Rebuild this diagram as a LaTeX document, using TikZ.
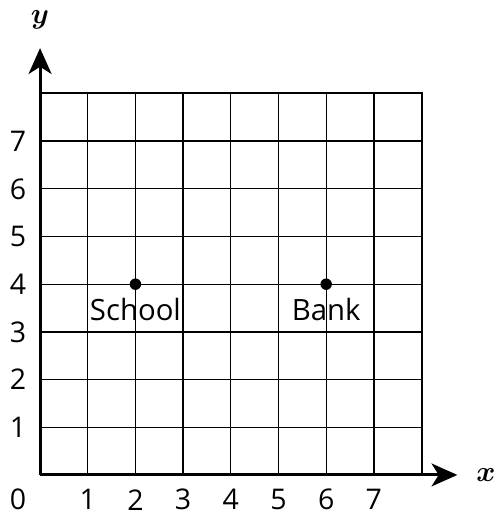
\documentclass[tikz,border=0pt]{standalone}
\usepackage{fontspec}
\setmainfont{Open Sans}
\usepackage{tikz}
\usetikzlibrary{arrows.meta,positioning}

\begin{document}
\begin{tikzpicture}[
  gl/.style={line width=0.8pt},
  frame/.style={line width=1.2pt},
  axis/.style={line width=1.8pt,-{Stealth[length=5.4mm,width=4.8mm,inset=1.5mm]}},
  tk/.style={font=\fontsize{17}{18}\selectfont,inner sep=0pt},
  dot/.style={circle,fill=black,inner sep=0pt,minimum size=2.4mm},
  pl/.style={font=\fontsize{17.5}{19}\selectfont,inner sep=1pt},
  al/.style={font=\fontsize{17}{18}\selectfont\boldmath,inner sep=0pt},
]
\useasboundingbox (-0.84,-0.84) rectangle (9.50,9.96);
% ============ grid ============
\foreach \i in {1,...,7} {
  \draw[gl] (\i,0) -- (\i,8);
  \draw[gl] (0,\i) -- (8,\i);
}
\draw[frame] (0,8) -- (8,8) -- (8,0);
% ============ axes ============
\coordinate (O) at (0,0);
\coordinate (xend) at (8.75,0);
\coordinate (yend) at (0,8.95);
\draw[axis] (O) -- (xend);
\draw[axis] (O) -- (yend);
\node[al] (xlab) at (9.35,0.0) {$x$};
\node[al] (ylab) at (0,9.55) {$y$};
% ============ tick labels ============
\node[tk] (t0) at (-0.46,-0.52) {0};
\foreach \i in {1,...,7} {
  \node[tk] (tx\i) at (\i,-0.52) {\i};
  \node[tk] (ty\i) at (-0.46,\i) {\i};
}
% ============ places ============
\node[dot] (school) at (2,4) {};
\node[dot] (bank) at (6,4) {};
\node[pl,below=1.2mm of school] (schoollab) {School};
\node[pl,below=1.2mm of bank] (banklab) {Bank};
\end{tikzpicture}
\end{document}
